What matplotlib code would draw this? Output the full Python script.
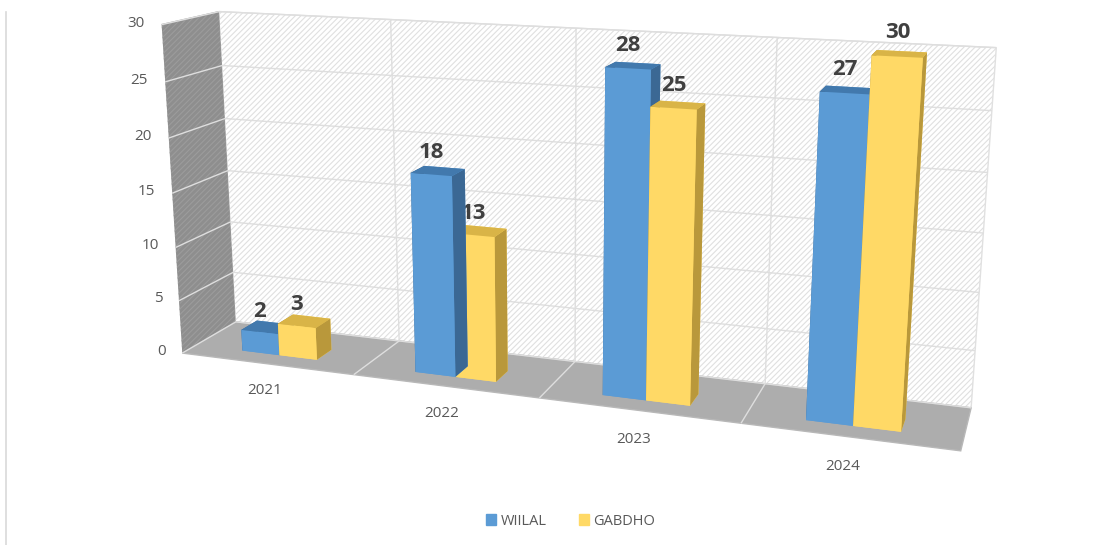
import numpy as np
import matplotlib.pyplot as plt
from matplotlib.patches import Patch
from matplotlib.lines import Line2D

# data
years = ['2021', '2022', '2023', '2024']
wiilal = [2, 18, 28, 27]
gabdho = [3, 13, 25, 30]
z_ticks = [0, 5, 10, 15, 20, 25, 30]

blue = '#5b9bd5'
blue_top = '#4279ad'
blue_side = '#3b6894'
yellow = '#ffd966'
yellow_top = '#d9b447'
yellow_side = '#b9983b'

plt.rcParams['font.family'] = ['Open Sans', 'DejaVu Sans']
plt.rcParams['grid.color'] = '#dedede'
plt.rcParams['grid.linewidth'] = 1.0
plt.rcParams['hatch.linewidth'] = 0.8

fig = plt.figure(figsize=(11.19, 5.45), dpi=100)
# square 3d axes as wide as the figure
ax = fig.add_axes([-0.015, -0.442, 1, 2.05], projection='3d')
ax.set_proj_type('persp', focal_length=0.26)
ax.view_init(elev=14.4, azim=-71)
ax.set_box_aspect((1300, 179, 564), zoom=0.78)
ax.set_xlim(-0.5, 3.5)
ax.set_ylim(0, 1)
ax.set_zlim(0, 30)

# walls
ax.yaxis.set_pane_color('white')
ax.yaxis.pane.set_edgecolor('#e0e0e0')
ax.yaxis.pane.set_hatch('//////')
ax.xaxis.set_pane_color('#8e8e8e')
ax.xaxis.pane.set_edgecolor('#9c9c9c')
ax.xaxis.pane.set_hatch('//////')
ax.zaxis.set_pane_color('#adadad')
ax.zaxis.pane.set_edgecolor('#b8b8b8')

ax.set_xticks([0.5, 1.5, 2.5])
ax.set_yticks([])
ax.set_zticks(z_ticks)
for a in (ax.xaxis, ax.yaxis, ax.zaxis):
    a.line.set_color((0, 0, 0, 0))
    a.label.set_visible(False)
    a.set_tick_params(labelbottom=False, labeltop=False)
    a._axinfo['tick']['inward_factor'] = 0
    a._axinfo['tick']['outward_factor'] = 0
ax.grid(True)

# bars
w = 0.22
y0, dy = 0.25, 0.3
for i in range(len(years)):
    ax.bar3d(i - w, y0, 0, w, dy, wiilal[i], shade=False,
             color=[blue, blue_top, blue, blue, blue_side, blue_side])
    ax.bar3d(i, y0, 0, w, dy, gabdho[i], shade=False,
             color=[yellow, yellow_top, yellow, yellow, yellow_side, yellow_side])
    ax.text(i - w / 2, y0, wiilal[i] + 1, str(wiilal[i]), ha='center', va='bottom',
            fontsize=16, fontweight='bold', color='#404040')
    ax.text(i + w / 2, y0, gabdho[i] + 1, str(gabdho[i]), ha='center', va='bottom',
            fontsize=16, fontweight='bold', color='#404040')
    ax.text(i - 0.02, 0, -2.6, years[i], ha='center', va='center', fontsize=11,
            color='#595959')

for v in z_ticks:
    ax.text(-0.6, 0, v, str(v), ha='right', va='center', fontsize=11, color='#595959')

handles = [Patch(color=blue, label='WIILAL'), Patch(color=yellow, label='GABDHO')]
fig.legend(handles=handles, loc='center', bbox_to_anchor=(0.51, 0.044), ncol=2,
           frameon=False, handlelength=0.7, handleheight=0.7, handletextpad=0.3,
           columnspacing=2.2, fontsize=10.5, labelcolor='#595959')

fig.add_artist(Line2D([0.0055, 0.0055], [0, 0.978], color='#d9d9d9', lw=1.2))

fig.savefig('out.png', dpi=100)
